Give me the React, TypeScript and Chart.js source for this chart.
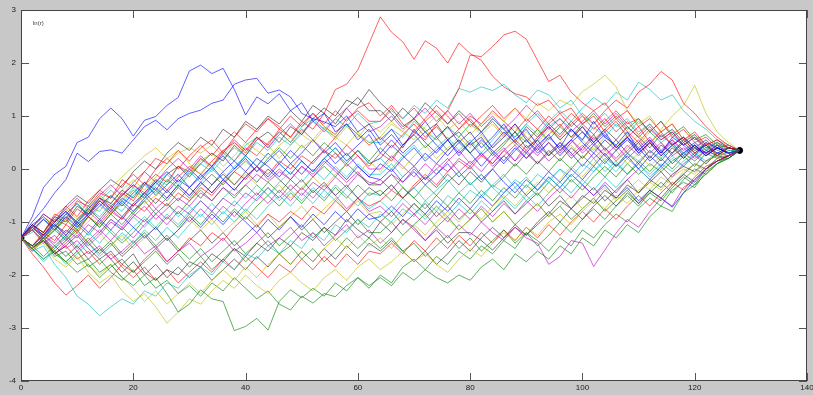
import React, { useEffect, useRef } from "react";
import { Chart, registerables } from "chart.js";

Chart.register(...registerables);

// x positions of every sample (simulation step)
const X_STEPS = [
  0, 2, 4, 6, 8, 10, 12, 14, 16, 18, 20, 22, 24, 26, 28, 30,
  32, 34, 36, 38, 40, 42, 44, 46, 48, 50, 52, 54, 56, 58, 60, 62,
  64, 66, 68, 70, 72, 74, 76, 78, 80, 82, 84, 86, 88, 90, 92, 94,
  96, 98, 100, 102, 104, 106, 108, 110, 112, 114, 116, 118, 120, 122, 124, 126,
  128,
];

const X_TICKS = [0, 20, 40, 60, 80, 100, 120, 140];
const Y_TICKS = [-4, -3, -2, -1, 0, 1, 2, 3];
const Y_LABEL = "ln(r)";

// end points of the bridge
const START_POINT = { x: 0, y: -1.3 };
const END_POINT = { x: 128, y: 0.35 };

const s01 = [
  -1.30, -0.90, -0.35, -0.10, 0.05, 0.50, 0.60, 0.95,
  1.15, 0.95, 0.62, 0.92, 0.99, 1.20, 1.35, 1.85,
  1.96, 1.80, 1.90, 1.50, 1.02, 1.36, 1.23, 1.42,
  1.10, 1.25, 0.90, 1.05, 0.70, 0.85, 0.55, 0.75,
  0.45, 0.65, 0.40, 0.75, 0.50, 0.30, 0.55, 0.25,
  0.50, 0.70, 0.40, 0.60, 0.85, 0.55, 0.35, 0.60,
  0.40, 0.75, 0.55, 0.90, 0.60, 0.45, 0.70, 0.35,
  0.55, 0.30, 0.60, 0.45, 0.25, 0.50, 0.40, 0.30,
  0.35,
];
const s02 = [
  -1.30, -1.45, -1.35, -1.60, -1.75, -1.55, -1.85, -1.70,
  -1.95, -2.10, -1.90, -2.20, -2.05, -2.35, -2.70, -2.55,
  -2.28, -2.45, -2.50, -3.05, -2.97, -2.82, -3.04, -2.50,
  -2.28, -2.43, -2.25, -2.40, -2.15, -2.30, -2.05, -2.20,
  -2.05, -2.20, -1.95, -2.10, -1.90, -2.05, -2.15, -2.00,
  -2.10, -1.85, -1.70, -1.90, -1.60, -1.75, -1.55, -1.70,
  -1.45, -1.60, -1.30, -1.45, -1.15, -1.30, -1.05, -1.20,
  -0.90, -0.70, -0.80, -0.45, -0.30, -0.10, 0.10, 0.20,
  0.35,
];
const s03 = [
  -1.30, -1.10, -1.25, -0.95, -1.05, -0.75, -0.90, -0.60,
  -0.75, -0.45, -0.60, -0.30, -0.10, -0.25, 0.05, -0.05,
  0.20, 0.05, 0.35, 0.50, 0.30, 0.60, 0.45, 0.75,
  0.60, 0.90, 0.75, 1.05, 1.50, 1.60, 1.87, 2.37,
  2.87, 2.58, 2.40, 2.07, 2.42, 2.28, 2.00, 2.38,
  2.18, 2.05, 1.75, 1.55, 1.42, 1.36, 1.20, 1.30,
  1.05, 1.15, 0.85, 1.00, 0.70, 0.90, 0.60, 0.80,
  0.50, 0.70, 0.45, 0.60, 0.30, 0.50, 0.25, 0.40,
  0.35,
];
const s04 = [
  -1.30, -1.55, -1.45, -1.80, -2.05, -2.40, -2.55, -2.77,
  -2.60, -2.45, -2.55, -2.30, -2.40, -2.15, -2.25, -2.00,
  -1.85, -2.00, -1.75, -1.90, -1.60, -1.70, -1.45, -1.60,
  -1.35, -1.50, -1.20, -1.35, -1.05, -1.20, -0.95, -1.10,
  -0.85, -1.00, -0.75, -0.90, -0.60, -0.80, -0.50, -0.65,
  -0.40, -0.55, -0.30, -0.45, -0.20, -0.35, -0.10, -0.25,
  0.00, -0.15, 0.10, -0.05, 0.20, 0.05, 0.30, 0.15,
  0.35, 0.20, 0.45, 0.30, 0.50, 0.35, 0.45, 0.30,
  0.35,
];
const s05 = [
  -1.30, -1.15, -1.40, -1.25, -1.50, -1.35, -1.60, -1.45,
  -1.70, -1.55, -1.35, -1.60, -1.45, -1.75, -1.55, -1.40,
  -1.65, -1.50, -1.30, -1.55, -1.40, -1.20, -1.45, -1.30,
  -1.10, -1.35, -1.20, -1.45, -1.25, -1.05, -1.30, -1.15,
  -1.40, -1.20, -0.95, -1.15, -1.35, -1.10, -1.30, -1.05,
  -1.25, -1.00, -1.20, -1.35, -1.10, -1.30, -1.40, -1.80,
  -1.65, -1.35, -1.40, -1.84, -1.53, -1.21, -0.95, -1.10,
  -0.80, -0.55, -0.70, -0.35, -0.20, 0.00, 0.15, 0.25,
  0.35,
];
const s06 = [
  -1.30, -1.50, -1.40, -1.70, -1.85, -1.65, -1.95, -2.15,
  -2.00, -2.30, -2.50, -2.35, -2.60, -2.91, -2.70, -2.45,
  -2.55, -2.30, -2.10, -2.25, -2.00, -2.20, -2.35, -2.10,
  -1.95, -2.15, -2.30, -2.05, -1.90, -2.10, -1.85, -1.70,
  -1.90, -1.75, -1.55, -1.75, -1.60, -1.80, -1.95, -1.70,
  -1.50, -1.65, -1.40, -1.20, -1.35, -1.10, -1.25, -1.00,
  -0.85, -1.05, -0.80, -0.60, -0.75, -0.50, -0.65, -0.40,
  -0.25, -0.40, -0.15, 0.00, -0.10, 0.15, 0.25, 0.30,
  0.35,
];
const s07 = [
  -1.30, -1.05, -1.20, -0.90, -1.00, -0.70, -0.85, -0.55,
  -0.65, -0.40, -0.55, -0.25, -0.40, -0.10, 0.05, -0.15,
  0.10, 0.30, 0.15, 0.45, 0.25, 0.55, 0.70, 0.50,
  0.80, 0.65, 0.95, 1.15, 1.00, 1.30, 1.20, 1.50,
  1.25, 1.05, 0.80, 0.95, 0.70, 0.85, 0.55, 0.70,
  0.45, 0.60, 0.30, 0.50, 0.70, 0.40, 0.55, 0.25,
  0.45, 0.20, 0.40, 0.65, 0.35, 0.55, 0.30, 0.50,
  0.20, 0.45, 0.30, 0.55, 0.35, 0.45, 0.25, 0.40,
  0.35,
];
const s08 = [
  -1.30, -1.00, -0.75, -0.45, -0.20, 0.30, 0.14, 0.33,
  0.36, 0.30, 0.55, 0.80, 0.92, 0.74, 0.95, 1.05,
  1.11, 1.24, 1.30, 1.60, 1.68, 1.71, 1.43, 1.49,
  1.36, 1.05, 0.95, 0.89, 0.80, 1.00, 0.70, 0.85,
  0.55, 0.75, 0.45, 0.65, 0.90, 0.60, 0.80, 0.50,
  0.70, 0.40, 0.60, 0.85, 0.55, 0.75, 0.45, 0.65,
  0.35, 0.55, 0.80, 0.50, 0.70, 0.40, 0.60, 0.30,
  0.50, 0.25, 0.45, 0.60, 0.40, 0.30, 0.45, 0.30,
  0.35,
];
const s09 = [
  -1.30, -1.50, -1.35, -1.65, -1.55, -1.80, -1.70, -1.95,
  -1.80, -2.05, -2.20, -2.00, -2.25, -2.10, -2.35, -2.20,
  -2.40, -2.15, -2.30, -2.05, -2.25, -2.45, -2.30, -2.55,
  -2.66, -2.40, -2.53, -2.35, -2.41, -2.20, -2.05, -2.25,
  -2.00, -2.15, -1.85, -1.70, -1.90, -1.65, -1.80, -1.55,
  -1.70, -1.45, -1.60, -1.35, -1.50, -1.20, -1.35, -1.55,
  -1.30, -1.45, -1.15, -1.30, -1.05, -0.85, -1.00, -0.75,
  -0.55, -0.70, -0.40, -0.25, -0.35, -0.05, 0.10, 0.20,
  0.35,
];
const s10 = [
  -1.30, -1.45, -1.20, -1.35, -1.05, -1.20, -0.90, -1.05,
  -0.80, -0.95, -0.65, -0.80, -0.55, -0.70, -0.45, -0.60,
  -0.35, -0.50, -0.25, -0.05, -0.20, 0.05, -0.10, 0.15,
  0.00, 0.25, 0.10, 0.35, 0.20, 0.45, 0.25, 0.05,
  0.30, 0.15, 0.45, 0.70, 0.55, 0.85, 1.10, 1.52,
  2.15, 2.12, 2.31, 2.53, 2.60, 2.45, 2.05, 1.65,
  1.77, 1.45, 1.25, 1.10, 1.25, 0.95, 1.10, 0.80,
  0.95, 0.70, 0.85, 0.55, 0.70, 0.45, 0.55, 0.40,
  0.35,
];
const s11 = [
  -1.30, -1.10, -1.30, -1.05, -0.85, -1.00, -0.75, -0.90,
  -0.65, -0.80, -0.50, -0.30, -0.45, -0.20, -0.35, -0.10,
  0.10, -0.05, 0.20, 0.40, 0.25, 0.50, 0.35, 0.60,
  0.45, 0.70, 0.90, 0.75, 0.95, 0.80, 1.05, 0.85,
  0.90, 1.10, 0.95, 1.20, 1.05, 1.30, 1.15, 1.52,
  1.45, 1.55, 1.48, 1.60, 1.40, 1.25, 1.49, 1.40,
  1.15, 1.30, 1.00, 0.85, 1.05, 0.80, 0.95, 0.70,
  0.85, 0.60, 0.75, 0.50, 0.65, 0.40, 0.50, 0.35,
  0.35,
];
const s12 = [
  -1.30, -1.45, -1.25, -1.40, -1.15, -1.30, -1.05, -1.20,
  -0.95, -1.10, -0.85, -1.00, -0.75, -0.95, -0.70, -0.85,
  -0.60, -0.80, -0.55, -0.70, -0.45, -0.60, -0.35, -0.55,
  -0.30, -0.50, -0.25, -0.40, -0.15, -0.35, -0.10, -0.25,
  -0.30, -0.10, -0.25, 0.00, -0.20, 0.10, -0.05, 0.20,
  0.05, 0.30, 0.10, 0.35, 0.15, 0.45, 0.25, 0.50,
  0.30, 0.55, 0.35, 0.60, 0.40, 0.20, 0.45, 0.25,
  0.50, 0.30, 0.55, 0.35, 0.50, 0.30, 0.45, 0.30,
  0.35,
];
const s13 = [
  -1.30, -1.15, -1.35, -1.10, -0.95, -1.20, -1.00, -0.70,
  -0.85, -0.55, -0.40, -0.65, -0.50, -0.20, -0.35, -0.10,
  0.15, 0.30, 0.05, 0.25, 0.50, 0.35, 0.20, 0.45,
  0.60, 0.40, 0.55, 0.80, 0.60, 0.45, 0.70, 0.50,
  0.60, 0.85, 0.70, 0.55, 0.80, 1.00, 0.75, 0.90,
  0.65, 0.85, 1.05, 0.90, 1.15, 0.95, 1.25, 1.10,
  1.30, 1.20, 1.46, 1.60, 1.77, 1.55, 1.10, 0.85,
  1.00, 0.70, 0.85, 0.55, 0.65, 0.40, 0.50, 0.30,
  0.35,
];
const s14 = [
  -1.30, -1.50, -1.30, -1.60, -1.45, -1.25, -1.50, -1.70,
  -1.55, -1.80, -1.60, -1.95, -2.10, -1.90, -2.00, -1.75,
  -1.85, -1.60, -1.75, -1.50, -1.65, -1.40, -1.55, -1.30,
  -1.45, -1.20, -1.35, -1.10, -1.25, -0.95, -1.15, -1.30,
  -1.00, -1.20, -0.95, -1.10, -1.35, -1.15, -1.40, -1.20,
  -1.20, -1.35, -1.53, -1.30, -1.10, -1.25, -1.05, -0.85,
  -0.60, -0.75, -0.50, -0.65, -0.40, -0.55, -0.30, -0.45,
  -0.20, -0.35, -0.10, 0.05, -0.05, 0.15, 0.25, 0.20,
  0.35,
];
const s15 = [
  -1.30, -1.05, -1.25, -1.00, -0.80, -1.05, -0.85, -0.60,
  -0.80, -0.55, -0.70, -0.45, -0.25, -0.45, -0.20, -0.35,
  -0.10, -0.30, -0.05, 0.15, -0.05, 0.20, 0.05, -0.15,
  0.10, -0.10, 0.15, 0.35, 0.10, 0.30, 0.05, -0.15,
  0.10, -0.05, 0.20, 0.40, 0.15, 0.35, 0.55, 0.30,
  0.50, 0.25, 0.45, 0.70, 0.50, 0.30, 0.55, 0.80,
  0.55, 0.75, 0.50, 0.30, 0.55, 0.35, 0.60, 0.40,
  0.15, 0.35, 0.10, 0.30, 0.45, 0.25, 0.40, 0.30,
  0.35,
];
const s16 = [
  -1.30, -1.50, -1.70, -1.55, -1.75, -1.95, -1.80, -2.05,
  -1.85, -1.70, -1.95, -1.75, -1.55, -1.80, -1.60, -1.85,
  -1.65, -1.90, -1.70, -1.50, -1.75, -1.55, -1.35, -1.60,
  -1.45, -1.70, -1.50, -1.75, -1.55, -1.30, -1.50, -1.30,
  -1.50, -1.30, -1.55, -1.40, -1.65, -1.45, -1.25, -1.50,
  -1.30, -1.55, -1.35, -1.15, -1.40, -1.20, -1.45, -1.25,
  -1.00, -1.20, -0.95, -0.75, -0.95, -0.70, -0.50, -0.70,
  -0.45, -0.60, -0.35, -0.15, -0.30, 0.00, 0.15, 0.20,
  0.35,
];
const s17 = [
  -1.30, -1.60, -1.85, -2.15, -2.38, -2.20, -2.00, -2.25,
  -2.05, -1.80, -1.95, -1.70, -1.50, -1.75, -1.55, -1.30,
  -1.45, -1.20, -1.35, -1.10, -0.90, -1.10, -0.85, -1.00,
  -0.80, -0.95, -0.70, -0.85, -0.60, -0.80, -0.55, -0.70,
  -0.60, -0.40, -0.55, -0.30, -0.10, -0.30, -0.05, 0.15,
  0.00, 0.25, 0.10, 0.35, 0.55, 0.35, 0.60, 0.80,
  0.60, 0.85, 1.05, 0.85, 1.10, 1.30, 1.15, 1.45,
  1.60, 1.84, 1.68, 1.24, 1.05, 0.80, 0.60, 0.45,
  0.35,
];
const s18 = [
  -1.30, -1.10, -0.90, -1.10, -0.85, -0.65, -0.85, -0.60,
  -0.40, -0.60, -0.35, -0.55, -0.30, -0.10, -0.30, -0.05,
  -0.25, 0.00, -0.20, 0.05, 0.25, 0.05, 0.30, 0.10,
  -0.10, 0.15, -0.05, 0.20, 0.40, 0.15, 0.35, 0.10,
  0.20, 0.00, 0.25, 0.45, 0.20, 0.40, 0.60, 0.35,
  0.55, 0.30, 0.55, 0.80, 0.60, 0.85, 0.65, 0.90,
  1.10, 0.90, 1.15, 1.35, 1.20, 1.45, 1.30, 1.64,
  1.50, 1.30, 1.40, 1.10, 0.90, 0.75, 0.55, 0.45,
  0.35,
];
const s19 = [
  -1.30, -1.10, -0.85, -1.00, -0.75, -0.55, -0.75, -0.50,
  -0.30, -0.50, -0.25, -0.05, -0.25, 0.00, 0.20, 0.00,
  0.25, 0.05, 0.30, 0.55, 0.35, 0.60, 0.40, 0.65,
  0.85, 0.65, 0.90, 0.70, 0.95, 1.15, 0.90, 0.70,
  0.80, 1.00, 0.75, 0.95, 1.15, 0.90, 1.10, 0.85,
  1.05, 0.80, 1.00, 0.75, 0.95, 1.20, 1.00, 0.75,
  0.95, 0.70, 0.90, 1.10, 0.85, 1.05, 0.80, 0.60,
  0.80, 0.55, 0.70, 0.45, 0.60, 0.40, 0.50, 0.30,
  0.35,
];
const s20 = [
  -1.30, -1.50, -1.30, -1.55, -1.75, -1.55, -1.80, -2.00,
  -1.80, -2.05, -2.25, -2.50, -2.30, -2.55, -2.35, -2.15,
  -2.35, -2.10, -1.90, -2.10, -1.85, -2.05, -1.80, -1.60,
  -1.80, -1.55, -1.75, -1.50, -1.30, -1.50, -1.25, -1.45,
  -1.30, -1.50, -1.25, -1.05, -1.25, -1.00, -0.80, -1.00,
  -0.75, -0.95, -0.70, -0.50, -0.70, -0.45, -0.25, -0.45,
  -0.20, 0.05, -0.15, 0.10, 0.35, 0.15, 0.40, 0.65,
  0.45, 0.75, 1.00, 1.20, 1.58, 1.05, 0.70, 0.50,
  0.35,
];
const s21 = [
  -1.30, -1.10, -1.30, -1.05, -1.20, -0.95, -0.75, -0.95,
  -0.70, -0.90, -0.65, -0.45, -0.65, -0.40, -0.60, -0.35,
  -0.55, -0.30, -0.10, -0.30, -0.05, -0.25, 0.00, -0.20,
  -0.40, -0.20, -0.45, -0.25, -0.50, -0.30, -0.55, -0.35,
  -0.50, -0.30, -0.55, -0.35, -0.15, -0.35, -0.10, -0.30,
  -0.05, -0.25, 0.00, 0.25, 0.05, 0.30, 0.10, 0.35,
  0.15, 0.40, 0.20, 0.45, 0.25, 0.05, 0.30, 0.10,
  0.35, 0.15, 0.40, 0.20, 0.45, 0.30, 0.40, 0.30,
  0.35,
];
const s22 = [
  -1.30, -1.45, -1.25, -1.05, -1.25, -1.00, -1.20, -0.95,
  -1.15, -0.90, -1.10, -1.30, -1.10, -1.35, -1.15, -0.90,
  -1.10, -0.85, -1.05, -0.80, -1.00, -1.20, -0.95, -1.15,
  -0.90, -1.10, -0.85, -1.05, -0.80, -1.00, -0.75, -0.95,
  -0.90, -0.70, -0.90, -0.65, -0.85, -0.60, -0.80, -0.55,
  -0.75, -0.50, -0.70, -0.45, -0.25, -0.50, -0.30, -0.05,
  -0.25, 0.00, -0.20, 0.05, 0.30, 0.05, 0.25, 0.00,
  0.25, 0.05, 0.30, 0.50, 0.30, 0.45, 0.30, 0.40,
  0.35,
];
const s23 = [
  -1.30, -1.15, -1.35, -1.15, -0.95, -1.15, -0.90, -1.10,
  -0.85, -0.65, -0.85, -0.60, -0.40, -0.60, -0.35, -0.55,
  -0.30, -0.10, -0.30, -0.05, 0.15, -0.05, 0.20, 0.40,
  0.20, 0.45, 0.25, 0.50, 0.30, 0.10, 0.35, 0.15,
  0.40, 0.20, 0.45, 0.65, 0.40, 0.60, 0.35, 0.55,
  0.30, 0.50, 0.25, 0.45, 0.70, 0.50, 0.75, 0.55,
  0.80, 0.60, 0.85, 1.05, 0.80, 1.00, 0.75, 0.95,
  0.70, 0.90, 0.65, 0.80, 0.55, 0.65, 0.45, 0.40,
  0.35,
];
const s24 = [
  -1.30, -1.50, -1.35, -1.60, -1.45, -1.70, -1.55, -1.80,
  -1.60, -1.85, -2.05, -1.85, -2.10, -1.90, -2.15, -1.95,
  -1.75, -1.95, -1.70, -1.90, -1.65, -1.85, -2.05, -1.80,
  -1.95, -1.70, -1.90, -1.65, -1.85, -1.60, -1.80, -1.55,
  -1.60, -1.40, -1.60, -1.35, -1.55, -1.30, -1.50, -1.25,
  -1.45, -1.20, -1.40, -1.15, -1.35, -1.10, -1.30, -1.05,
  -1.25, -1.00, -0.80, -1.00, -0.75, -0.95, -0.70, -0.50,
  -0.70, -0.45, -0.25, -0.40, -0.15, 0.05, 0.15, 0.25,
  0.35,
];
const s25 = [
  -1.30, -1.50, -1.70, -1.50, -1.25, -1.45, -1.20, -1.40,
  -1.15, -1.35, -1.10, -0.90, -1.10, -0.85, -1.05, -0.80,
  -0.60, -0.80, -0.55, -0.35, -0.55, -0.30, -0.50, -0.25,
  -0.05, -0.25, 0.00, -0.20, 0.05, -0.15, 0.10, -0.10,
  -0.10, 0.10, -0.15, 0.05, -0.20, 0.00, -0.25, -0.05,
  -0.30, -0.10, -0.35, -0.55, -0.35, -0.60, -0.40, -0.15,
  -0.35, -0.10, -0.30, -0.05, 0.15, -0.05, 0.20, 0.00,
  -0.20, 0.00, 0.20, 0.05, 0.25, 0.40, 0.30, 0.40,
  0.35,
];
const s26 = [
  -1.30, -1.10, -1.30, -1.50, -1.30, -1.55, -1.35, -1.15,
  -1.35, -1.10, -1.30, -1.05, -0.85, -1.05, -0.80, -1.00,
  -0.75, -0.95, -0.70, -0.90, -0.65, -0.45, -0.65, -0.40,
  -0.60, -0.35, -0.55, -0.30, -0.50, -0.75, -0.55, -0.80,
  -0.70, -0.90, -0.65, -0.85, -1.05, -0.80, -1.00, -0.75,
  -0.95, -0.70, -0.90, -0.65, -0.85, -0.60, -0.80, -0.55,
  -0.35, -0.55, -0.30, -0.50, -0.25, -0.45, -0.20, 0.00,
  -0.20, 0.05, -0.15, 0.10, 0.25, 0.10, 0.30, 0.25,
  0.35,
];
const s27 = [
  -1.30, -1.10, -0.90, -1.05, -0.80, -0.60, -0.80, -0.55,
  -0.35, -0.15, 0.05, 0.25, 0.40, 0.20, 0.35, 0.10,
  -0.10, 0.15, -0.05, -0.30, -0.10, -0.30, -0.50, -0.30,
  -0.55, -0.35, -0.15, -0.35, -0.10, 0.10, -0.10, 0.15,
  -0.05, 0.20, 0.00, 0.25, 0.45, 0.20, 0.40, 0.60,
  0.40, 0.65, 0.85, 0.60, 0.80, 0.55, 0.75, 0.50,
  0.25, 0.45, 0.20, 0.40, 0.15, 0.35, 0.10, 0.30,
  0.05, 0.25, 0.45, 0.20, 0.40, 0.25, 0.45, 0.30,
  0.35,
];
const s28 = [
  -1.30, -1.45, -1.25, -1.45, -1.65, -1.45, -1.70, -1.50,
  -1.70, -1.95, -1.75, -2.00, -1.80, -2.05, -1.85, -2.05,
  -1.85, -2.10, -1.90, -1.70, -1.90, -1.65, -1.85, -1.60,
  -1.80, -1.55, -1.75, -1.50, -1.70, -1.45, -1.65, -1.40,
  -1.55, -1.35, -1.55, -1.75, -1.55, -1.80, -1.60, -1.35,
  -1.55, -1.30, -1.10, -1.30, -1.05, -1.25, -1.00, -0.80,
  -1.00, -0.75, -0.95, -0.70, -0.50, -0.70, -0.45, -0.65,
  -0.40, -0.55, -0.30, -0.10, -0.25, 0.00, 0.15, 0.25,
  0.35,
];
const s29 = [
  -1.30, -1.15, -0.95, -1.15, -0.90, -1.10, -0.85, -0.65,
  -0.85, -0.60, -0.80, -0.55, -0.35, -0.55, -0.30, -0.50,
  -0.25, -0.45, -0.20, -0.40, -0.15, 0.05, -0.15, 0.10,
  -0.10, 0.15, -0.05, 0.20, 0.00, -0.20, 0.05, -0.15,
  -0.20, 0.00, -0.25, -0.05, -0.30, -0.10, 0.10, -0.15,
  0.05, -0.20, 0.00, -0.25, -0.45, -0.20, -0.40, -0.15,
  -0.35, -0.10, -0.30, -0.50, -0.30, -0.55, -0.35, -0.60,
  -0.40, -0.55, -0.72, -0.45, -0.20, 0.00, 0.15, 0.25,
  0.35,
];
const s30 = [
  -1.30, -1.50, -1.30, -1.10, -1.30, -1.05, -1.25, -1.00,
  -1.20, -1.40, -1.20, -0.95, -1.15, -0.90, -1.10, -0.85,
  -1.05, -0.80, -1.00, -0.75, -0.95, -0.70, -0.50, -0.70,
  -0.45, -0.65, -0.40, -0.60, -0.35, -0.55, -0.30, -0.50,
  -0.40, -0.60, -0.35, -0.55, -0.75, -0.50, -0.70, -0.45,
  -0.65, -0.40, -0.60, -0.35, -0.55, -0.30, -0.50, -0.25,
  -0.45, -0.20, -0.40, -0.15, 0.05, -0.15, 0.10, -0.10,
  0.10, -0.05, 0.15, 0.30, 0.15, 0.35, 0.25, 0.40,
  0.35,
];
const s31 = [
  -1.30, -1.05, -1.20, -0.85, -0.95, -0.60, -0.70, -0.45,
  -0.55, -0.20, -0.35, -0.05, 0.20, 0.10, 0.35, 0.15,
  0.40, 0.55, 0.30, 0.60, 0.85, 0.70, 0.95, 0.80,
  0.60, 0.85, 1.05, 0.80, 0.65, 0.95, 1.10, 0.90,
  0.90, 1.15, 0.85, 0.70, 0.95, 1.20, 1.00, 0.75,
  1.00, 0.85, 1.10, 0.90, 0.70, 0.95, 0.75, 1.00,
  0.80, 1.05, 0.85, 0.65, 0.90, 1.10, 0.85, 0.95,
  0.70, 0.90, 0.60, 0.75, 0.50, 0.60, 0.40, 0.45,
  0.35,
];
const s32 = [
  -1.30, -1.20, -0.95, -1.15, -0.90, -1.05, -0.70, -0.80,
  -0.50, -0.65, -0.40, -0.55, -0.20, -0.30, 0.05, -0.10,
  0.20, 0.00, 0.30, 0.15, 0.45, 0.60, 0.40, 0.70,
  0.50, 0.80, 0.95, 0.75, 0.60, 0.85, 0.65, 0.50,
  0.50, 0.75, 0.60, 0.90, 0.70, 0.55, 0.80, 0.60,
  0.85, 0.70, 0.95, 0.75, 0.60, 0.85, 1.05, 0.80,
  0.95, 0.75, 0.55, 0.80, 0.60, 0.85, 0.65, 0.90,
  0.70, 0.50, 0.65, 0.45, 0.60, 0.40, 0.50, 0.40,
  0.35,
];
const s33 = [
  -1.30, -1.55, -1.35, -1.60, -1.40, -1.20, -1.45, -1.25,
  -1.00, -1.15, -0.90, -0.70, -0.95, -0.75, -0.55, -0.70,
  -0.45, -0.60, -0.35, -0.50, -0.30, -0.10, -0.25, -0.05,
  -0.20, 0.05, -0.10, 0.15, -0.05, -0.25, -0.05, -0.30,
  -0.20, -0.40, -0.15, 0.05, -0.20, 0.00, 0.20, -0.05,
  0.15, -0.05, 0.20, 0.40, 0.15, 0.35, 0.10, 0.30,
  0.50, 0.25, 0.45, 0.20, 0.40, 0.15, 0.35, 0.55,
  0.30, 0.50, 0.25, 0.40, 0.20, 0.35, 0.25, 0.40,
  0.35,
];
const s34 = [
  -1.30, -1.15, -1.35, -1.55, -1.35, -1.15, -1.40, -1.20,
  -1.45, -1.25, -1.50, -1.30, -1.10, -1.35, -1.15, -0.95,
  -1.15, -0.95, -1.20, -1.00, -0.80, -1.05, -0.85, -1.10,
  -0.90, -0.70, -0.95, -0.75, -0.55, -0.80, -0.60, -0.85,
  -0.80, -1.05, -0.85, -0.65, -0.90, -0.70, -0.95, -1.15,
  -0.95, -0.75, -1.00, -0.80, -1.05, -0.85, -0.65, -0.90,
  -0.70, -0.50, -0.75, -0.55, -0.35, -0.60, -0.40, -0.20,
  -0.40, -0.15, -0.30, -0.05, 0.10, -0.05, 0.20, 0.25,
  0.35,
];
const s35 = [
  -1.30, -1.10, -0.85, -1.00, -0.70, -0.50, -0.65, -0.40,
  -0.20, -0.35, -0.05, 0.15, 0.00, 0.30, 0.50, 0.35,
  0.60, 0.45, 0.75, 0.60, 0.90, 0.75, 1.00, 0.85,
  1.10, 0.90, 1.20, 1.05, 0.85, 1.15, 1.35, 1.10,
  1.10, 0.90, 1.15, 0.95, 1.25, 1.05, 0.85, 1.10,
  0.90, 0.70, 0.95, 0.75, 0.50, 0.80, 0.60, 0.85,
  0.65, 0.90, 0.70, 0.50, 0.75, 0.55, 0.80, 0.60,
  0.40, 0.65, 0.45, 0.60, 0.40, 0.55, 0.35, 0.40,
  0.35,
];
const s36 = [
  -1.30, -1.05, -0.90, -1.10, -0.85, -0.65, -0.90, -0.70,
  -0.50, -0.70, -0.45, -0.25, -0.50, -0.30, -0.10, -0.35,
  -0.15, 0.05, -0.20, 0.00, 0.25, 0.05, 0.30, 0.10,
  0.35, 0.15, -0.05, 0.20, 0.40, 0.15, 0.35, 0.10,
  0.20, 0.45, 0.25, 0.05, 0.30, 0.10, 0.35, 0.55,
  0.30, 0.55, 0.35, 0.15, 0.40, 0.20, 0.45, 0.25,
  0.50, 0.30, 0.05, 0.30, 0.10, 0.35, 0.55, 0.30,
  0.50, 0.25, 0.45, 0.20, 0.40, 0.25, 0.40, 0.30,
  0.35,
];
const s37 = [
  -1.30, -1.45, -1.65, -1.45, -1.25, -1.50, -1.30, -1.55,
  -1.35, -1.60, -1.40, -1.20, -1.45, -1.25, -1.50, -1.70,
  -1.50, -1.75, -1.55, -1.35, -1.60, -1.40, -1.20, -1.45,
  -1.25, -1.05, -1.30, -1.10, -1.35, -1.15, -0.95, -1.20,
  -1.20, -1.00, -1.25, -1.05, -0.85, -1.10, -0.90, -1.15,
  -0.95, -0.75, -1.00, -0.80, -1.05, -0.85, -0.65, -0.90,
  -0.70, -0.95, -0.75, -0.55, -0.80, -0.60, -0.40, -0.65,
  -0.45, -0.25, -0.45, -0.20, 0.00, -0.10, 0.10, 0.25,
  0.35,
];
const s38 = [
  -1.30, -1.15, -0.95, -1.10, -0.85, -1.00, -0.80, -0.55,
  -0.70, -0.50, -0.30, -0.45, -0.20, -0.40, -0.15, 0.05,
  -0.10, 0.15, 0.35, 0.15, 0.40, 0.25, 0.50, 0.70,
  0.50, 0.75, 0.55, 0.35, 0.60, 0.85, 0.65, 0.45,
  0.60, 0.40, 0.65, 0.85, 0.60, 0.80, 0.55, 0.75,
  0.95, 0.70, 0.90, 0.65, 0.85, 0.60, 0.40, 0.65,
  0.85, 0.60, 0.80, 0.55, 0.75, 0.95, 0.70, 0.50,
  0.75, 0.55, 0.70, 0.45, 0.60, 0.35, 0.50, 0.40,
  0.35,
];
const s39 = [
  -1.30, -1.50, -1.30, -1.10, -1.35, -1.15, -1.40, -1.20,
  -0.95, -1.15, -0.90, -1.10, -0.85, -0.65, -0.90, -0.70,
  -0.90, -0.65, -0.85, -0.60, -0.80, -0.55, -0.35, -0.60,
  -0.40, -0.60, -0.35, -0.55, -0.30, -0.50, -0.70, -0.45,
  -0.50, -0.30, -0.55, -0.35, -0.60, -0.40, -0.20, -0.45,
  -0.25, -0.50, -0.30, -0.10, -0.35, -0.15, -0.40, -0.20,
  0.00, -0.25, -0.05, 0.20, -0.05, 0.15, -0.10, 0.10,
  -0.15, 0.05, 0.25, 0.05, 0.30, 0.10, 0.30, 0.25,
  0.35,
];
const s40 = [
  -1.30, -1.10, -1.30, -1.05, -1.25, -1.00, -0.80, -1.00,
  -0.75, -0.95, -0.70, -0.50, -0.75, -0.55, -0.30, -0.50,
  -0.25, -0.45, -0.20, -0.40, -0.15, 0.05, -0.20, 0.00,
  -0.20, 0.05, -0.15, 0.10, 0.30, 0.05, 0.25, 0.00,
  0.00, 0.25, 0.05, -0.15, 0.10, -0.10, 0.15, 0.35,
  0.10, 0.30, 0.05, 0.25, 0.45, 0.20, 0.40, 0.15,
  0.35, 0.55, 0.30, 0.50, 0.25, 0.45, 0.20, 0.40,
  0.60, 0.35, 0.55, 0.30, 0.45, 0.25, 0.40, 0.30,
  0.35,
];
const s41 = [
  -1.30, -1.05, -1.20, -0.95, -0.75, -0.95, -0.70, -0.50,
  -0.65, -0.40, -0.20, -0.40, -0.15, 0.10, 0.30, 0.40,
  0.30, 0.45, 0.25, 0.50, 0.35, 0.60, 0.45, 0.20,
  0.45, 0.65, 0.50, 0.75, 0.55, 0.80, 0.60, 0.85,
  0.70, 0.90, 0.70, 0.95, 0.75, 0.55, 0.80, 0.60,
  0.85, 0.65, 0.40, 0.65, 0.45, 0.70, 0.50, 0.75,
  0.55, 0.30, 0.55, 0.35, 0.60, 0.40, 0.65, 0.45,
  0.70, 0.50, 0.30, 0.50, 0.30, 0.45, 0.30, 0.40,
  0.35,
];
const s42 = [
  -1.30, -1.50, -1.30, -1.55, -1.35, -1.15, -1.40, -1.60,
  -1.40, -1.65, -1.45, -1.25, -1.50, -1.30, -1.55, -1.35,
  -1.15, -1.40, -1.20, -1.45, -1.25, -1.05, -1.30, -1.10,
  -0.90, -1.15, -0.95, -1.20, -1.00, -0.80, -1.05, -0.85,
  -1.00, -0.80, -1.05, -0.85, -0.65, -0.90, -0.70, -0.95,
  -0.75, -1.00, -0.80, -0.60, -0.85, -0.65, -0.45, -0.70,
  -0.50, -0.75, -0.55, -0.35, -0.60, -0.40, -0.20, -0.45,
  -0.25, -0.05, -0.30, -0.10, 0.10, 0.00, 0.20, 0.25,
  0.35,
];
const s43 = [
  -1.30, -1.10, -1.25, -1.00, -0.80, -1.00, -0.75, -0.55,
  -0.75, -0.50, -0.30, -0.50, -0.25, -0.05, -0.25, 0.00,
  -0.20, 0.05, 0.25, 0.00, 0.20, -0.05, 0.15, 0.35,
  0.10, 0.30, 0.55, 0.30, 0.50, 0.25, 0.45, 0.65,
  0.30, 0.55, 0.30, 0.50, 0.70, 0.45, 0.25, 0.50,
  0.30, 0.05, 0.30, 0.10, 0.35, 0.55, 0.30, 0.50,
  0.25, 0.50, 0.70, 0.45, 0.65, 0.40, 0.60, 0.35,
  0.55, 0.30, 0.50, 0.25, 0.45, 0.25, 0.40, 0.30,
  0.35,
];
const s44 = [
  -1.30, -1.15, -1.35, -1.15, -1.35, -1.10, -0.90, -1.10,
  -0.85, -1.05, -0.80, -0.60, -0.85, -0.65, -0.85, -0.60,
  -0.40, -0.60, -0.35, -0.55, -0.30, -0.50, -0.25, -0.45,
  -0.20, -0.40, -0.15, 0.05, -0.15, 0.10, -0.10, -0.30,
  -0.30, -0.10, -0.35, -0.55, -0.30, -0.50, -0.25, -0.05,
  -0.30, -0.10, -0.35, -0.15, 0.10, -0.10, 0.15, -0.05,
  0.20, 0.00, 0.25, 0.05, -0.15, 0.10, -0.10, 0.15,
  -0.05, 0.20, 0.00, 0.25, 0.05, 0.30, 0.20, 0.35,
  0.35,
];
const s45 = [
  -1.30, -1.05, -1.20, -0.90, -0.70, -0.90, -0.60, -0.40,
  -0.55, -0.30, -0.10, -0.30, 0.00, 0.20, 0.00, 0.25,
  0.45, 0.25, 0.50, 0.70, 0.50, 0.75, 0.95, 0.75,
  1.00, 0.80, 1.05, 0.85, 1.10, 0.90, 1.15, 1.25,
  1.00, 1.20, 0.95, 1.15, 0.90, 1.10, 0.85, 1.05,
  0.80, 1.00, 1.20, 0.95, 1.15, 0.90, 1.10, 0.85,
  1.05, 0.80, 1.00, 0.75, 0.95, 0.70, 0.90, 0.65,
  0.85, 0.60, 0.75, 0.50, 0.65, 0.45, 0.55, 0.40,
  0.35,
];
const s46 = [
  -1.30, -1.50, -1.75, -1.55, -1.80, -1.60, -1.40, -1.65,
  -1.45, -1.20, -1.40, -1.15, -1.35, -1.10, -1.30, -1.05,
  -0.85, -1.05, -0.80, -1.00, -0.75, -0.95, -0.70, -0.50,
  -0.70, -0.45, -0.65, -0.40, -0.60, -0.35, -0.55, -0.75,
  -0.60, -0.80, -0.55, -0.75, -0.95, -0.70, -0.90, -0.65,
  -0.85, -0.60, -0.80, -0.55, -0.75, -0.50, -0.70, -0.45,
  -0.25, -0.45, -0.20, -0.40, -0.15, -0.35, -0.10, 0.10,
  -0.10, 0.10, -0.05, 0.15, 0.30, 0.15, 0.30, 0.30,
  0.35,
];

const SERIES = [
  s01, s02, s03, s04, s05, s06, s07, s08, s09, s10,
  s11, s12, s13, s14, s15, s16, s17, s18, s19, s20,
  s21, s22, s23, s24, s25, s26, s27, s28, s29, s30,
  s31, s32, s33, s34, s35, s36, s37, s38, s39, s40,
  s41, s42, s43, s44, s45, s46,
];

// MATLAB-like colour order, drawn semi-transparent
const LINE_COLORS = [
  "rgba(0,0,255,0.62)",
  "rgba(0,128,0,0.62)",
  "rgba(255,0,0,0.62)",
  "rgba(0,191,191,0.62)",
  "rgba(191,0,191,0.62)",
  "rgba(191,191,0,0.62)",
  "rgba(40,40,40,0.62)",
];

const FONT = "8px 'Liberation Sans', Arial, sans-serif";

const framePlugin = {
  id: "matlabFrame",
  beforeDraw(chart: any) {
    const { ctx, chartArea } = chart;
    const { left, right, top, bottom } = chartArea;
    ctx.save();
    ctx.fillStyle = "#ffffff";
    ctx.fillRect(left, top, right - left, bottom - top);
    ctx.restore();
  },
  afterDraw(chart: any) {
    const { ctx, chartArea } = chart;
    const { left, right, top, bottom } = chartArea;
    const xs = chart.scales.x;
    const ys = chart.scales.y;
    ctx.save();
    ctx.strokeStyle = "#555555";
    ctx.lineWidth = 1;
    ctx.beginPath();
    for (const v of X_TICKS) {
      const px = Math.round(xs.getPixelForValue(v)) + 0.5;
      ctx.moveTo(px, bottom);
      ctx.lineTo(px, bottom - 8);
      ctx.moveTo(px, top);
      ctx.lineTo(px, top + 8);
    }
    for (const v of Y_TICKS) {
      const py = Math.round(ys.getPixelForValue(v)) + 0.5;
      ctx.moveTo(left, py);
      ctx.lineTo(left + 8, py);
      ctx.moveTo(right, py);
      ctx.lineTo(right - 8, py);
    }
    ctx.stroke();
    ctx.strokeStyle = "#444444";
    ctx.strokeRect(left + 0.5, top + 0.5, right - left - 1, bottom - top - 1);

    ctx.fillStyle = "#1a1a1a";
    ctx.font = FONT;
    ctx.textAlign = "right";
    ctx.textBaseline = "middle";
    for (const v of Y_TICKS) {
      ctx.fillText(String(v), left - 5, ys.getPixelForValue(v));
    }
    ctx.textAlign = "center";
    ctx.textBaseline = "top";
    for (const v of X_TICKS) {
      ctx.fillText(String(v), xs.getPixelForValue(v), bottom + 3);
    }

    ctx.fillStyle = "#333333";
    ctx.font = "6px 'Liberation Sans', Arial, sans-serif";
    ctx.textAlign = "left";
    ctx.textBaseline = "middle";
    ctx.fillText(Y_LABEL, left + 12, top + 13);
    ctx.restore();
  },
};

export default function App() {
  const canvasRef = useRef<HTMLCanvasElement | null>(null);

  useEffect(() => {
    const canvas = canvasRef.current;
    if (!canvas) return;
    const lineSets = SERIES.map((ys, i) => ({
      type: "line" as const,
      data: X_STEPS.map((x, j) => ({ x, y: ys[j] })),
      borderColor: LINE_COLORS[i % LINE_COLORS.length],
      backgroundColor: LINE_COLORS[i % LINE_COLORS.length],
      borderWidth: 1,
      pointRadius: 0,
      tension: 0,
      fill: false,
    }));
    const ends = {
      type: "scatter" as const,
      data: [START_POINT, END_POINT],
      pointRadius: 3,
      pointBackgroundColor: "#000000",
      pointBorderColor: "#000000",
      showLine: false,
    };
    const chart = new Chart(canvas, {
      type: "line",
      data: { datasets: [...lineSets, ends] as any },
      options: {
        animation: false,
        responsive: false,
        maintainAspectRatio: false,
        layout: { padding: { left: 8, right: 6, top: 10, bottom: 1 } },
        plugins: {
          legend: { display: false },
          tooltip: { enabled: false },
        },
        scales: {
          x: {
            type: "linear",
            min: 0,
            max: 140,
            grid: { display: false },
            border: { display: false },
            ticks: { display: false, stepSize: 20 },
            afterFit: (s: any) => {
              s.height = 13;
            },
          },
          y: {
            type: "linear",
            min: -4,
            max: 3,
            grid: { display: false },
            border: { display: false },
            ticks: { display: false, stepSize: 1 },
            afterFit: (s: any) => {
              s.width = 13;
            },
          },
        },
      },
      plugins: [framePlugin],
    });
    return () => chart.destroy();
  }, []);

  return (
    <div
      style={{
        position: "fixed",
        left: 0,
        top: 0,
        width: 813,
        height: 395,
        background: "#c8c8c8",
      }}
    >
      <canvas
        ref={canvasRef}
        width={813}
        height={395}
        style={{ display: "block", width: 813, height: 395 }}
      />
    </div>
  );
}
